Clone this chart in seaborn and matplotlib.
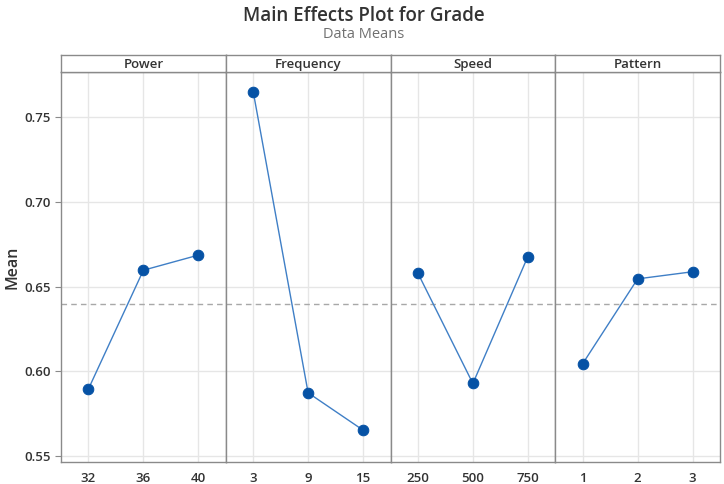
import matplotlib
matplotlib.use("Agg")
import matplotlib.pyplot as plt
import seaborn as sns
import pandas as pd

factors = ["Power", "Frequency", "Speed", "Pattern"]
power_levels = ["32", "36", "40"]
power_means = [0.5896, 0.6596, 0.6685]
freq_levels = ["3", "9", "15"]
freq_means = [0.7649, 0.5873, 0.5653]
speed_levels = ["250", "500", "750"]
speed_means = [0.6578, 0.5928, 0.6676]
pattern_levels = ["1", "2", "3"]
pattern_means = [0.6045, 0.6545, 0.6587]
grand_mean = 0.6394
y_ticks = [0.55, 0.60, 0.65, 0.70, 0.75]

levels = [power_levels, freq_levels, speed_levels, pattern_levels]
means = [power_means, freq_means, speed_means, pattern_means]

rows = []
for f, lv, mv in zip(factors, levels, means):
    for l, m in zip(lv, mv):
        rows.append({"factor": f, "level": l, "mean": m})
df = pd.DataFrame(rows)

sns.set_theme(style="white")
plt.rcParams["font.family"] = ["Open Sans", "DejaVu Sans"]

W, H = 724, 484
fig = plt.figure(figsize=(W / 100, H / 100), dpi=100)

spine_col = "#8a8a8a"
grid_col = "#e6e6e6"
text_col = "#333333"
left_px, right_px = 61, 720
top_px, bot_px = 72, 462
head_top = 55
pw = (right_px - left_px) / 4

ymin, ymax = 0.5465, 0.7765

for i, f in enumerate(factors):
    x0 = (left_px + i * pw) / W
    ax = fig.add_axes([x0, 1 - bot_px / H, pw / W, (bot_px - top_px) / H])
    sub = df[df["factor"] == f].copy()
    sub["pos"] = range(len(sub))
    sns.lineplot(data=sub, x="pos", y="mean", ax=ax, color="#3f7fc6", lw=1.0,
                 marker="o", markersize=7.6, markerfacecolor="#0652a5",
                 markeredgecolor="#0652a5", zorder=3)
    ax.set_xlim(-0.5, 2.5)
    ax.set_ylim(ymin, ymax)
    ax.set_xticks(range(len(sub)))
    ax.set_xticklabels(list(sub["level"]))
    ax.set_yticks(y_ticks)
    ax.grid(True, color=grid_col, lw=1.0)
    ax.set_axisbelow(True)
    ax.axhline(grand_mean, color="#a8a8a8", lw=1.0, ls=(0, (4, 3)), zorder=2)
    ax.set_xlabel("")
    for s in ax.spines.values():
        s.set_color(spine_col)
        s.set_linewidth(1.0)
    ax.tick_params(axis="both", colors=spine_col, labelcolor=text_col,
                   labelsize=9.5, length=4, width=0.8, direction="out")
    ax.tick_params(axis="x", pad=3)
    if i == 0:
        ax.set_ylabel("")
        ax.set_yticklabels([f"{v:.2f}" for v in y_ticks])
        ax.tick_params(axis="y", left=True)
    else:
        ax.set_ylabel("")
        ax.tick_params(axis="y", left=False, labelleft=False)
    for lab in ax.get_xticklabels() + ax.get_yticklabels():
        lab.set_fontweight("semibold")

    hax = fig.add_axes([x0, 1 - top_px / H, pw / W, (top_px - head_top) / H])
    hax.set_xticks([])
    hax.set_yticks([])
    for s in hax.spines.values():
        s.set_color(spine_col)
        s.set_linewidth(1.0)
    hax.text(0.5, 0.45, f, ha="center", va="center", fontsize=9.5,
             color=text_col, fontweight="semibold", transform=hax.transAxes)

fig.text(13 / W, 1 - 267 / H, "Mean", rotation=90, ha="center", va="center",
         fontsize=11.5, color=text_col, fontweight="semibold")
fig.text(364 / W, 1 - 16 / H, "Main Effects Plot for Grade", ha="center",
         va="center", fontsize=13.5, color=text_col, fontweight="semibold")
fig.text(364 / W, 1 - 34 / H, "Data Means", ha="center", va="center",
         fontsize=10.5, color="#707070")

fig.savefig("out.png", dpi=100)
